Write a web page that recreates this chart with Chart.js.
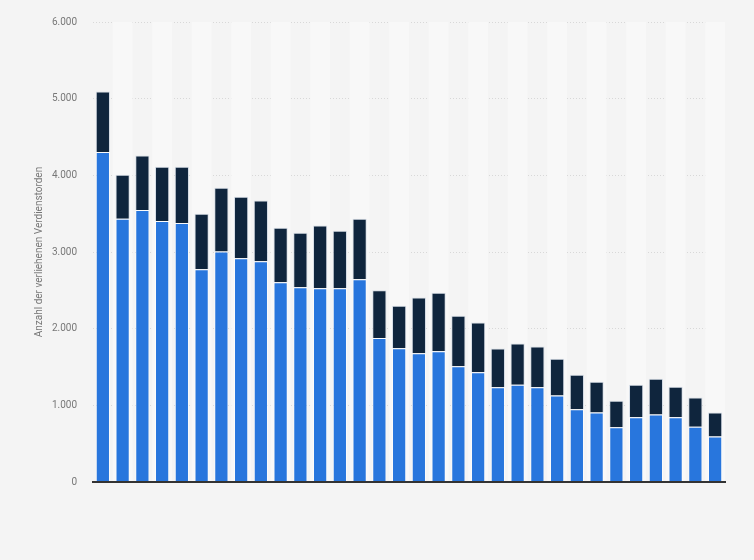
<!DOCTYPE html>
<html lang="de">
<head>
<meta charset="utf-8">
<title>Verdienstorden</title>
<script src="https://cdn.jsdelivr.net/npm/chart.js@4/dist/chart.umd.min.js"></script>
<style>
    html, body { margin: 0; padding: 0; background: #f4f4f4; }
    #wrap { width: 754px; height: 560px; }
</style>
</head>
<body>
<div id="wrap"><canvas id="ordenChart" width="754" height="560"></canvas></div>
<script>
// Kategorien (Beschriftung der x-Achse ist im Original ausgeblendet)
const categories = ['1', '2', '3', '4', '5', '6', '7', '8', '9', '10', '11', '12', '13', '14', '15', '16',
    '17', '18', '19', '20', '21', '22', '23', '24', '25', '26', '27', '28', '29', '30', '31', '32'];

// unteres Segment (blau)
const blueValues = [4303, 3435, 3547, 3403, 3377, 2774, 3008, 2917, 2878, 2604, 2539, 2526, 2526, 2643, 1878, 1743,
    1678, 1704, 1509, 1430, 1235, 1270, 1235, 1127, 948, 905, 713, 844, 879, 844, 722, 592];

// oberes Segment (dunkelblau)
const darkValues = [792, 573, 713, 710, 736, 726, 831, 805, 795, 713, 713, 821, 752, 792, 622, 557,
    727, 766, 661, 649, 505, 535, 531, 482, 452, 404, 348, 426, 469, 400, 379, 313];

const yTicks = [0, 1000, 2000, 3000, 4000, 5000, 6000];
const yTitle = 'Anzahl der verliehenen Verdienstorden';

function formatDe(v) {
    return String(v).replace(/\B(?=(\d{3})+(?!\d))/g, '.');
}

// abwechselnd hellere Spalten hinter den Balken
const stripePlugin = {
    id: 'stripes',
    beforeDatasetsDraw(chart) {
        const { ctx, chartArea, scales } = chart;
        const x = scales.x;
        const band = (chartArea.right - chartArea.left) / categories.length;
        ctx.save();
        ctx.fillStyle = '#f8f8f8';
        categories.forEach((_, i) => {
            if (i % 2 === 1) {
                const cx = x.getPixelForValue(i);
                ctx.fillRect(cx - band / 2, chartArea.top, band, chartArea.bottom - chartArea.top);
            }
        });
        ctx.restore();
    }
};

new Chart(document.getElementById('ordenChart'), {
    type: 'bar',
    data: {
        labels: categories,
        datasets: [
            {
                label: 'blau',
                data: blueValues,
                backgroundColor: '#2876dd',
                borderColor: 'rgba(255,255,255,0.55)',
                borderWidth: 1,
                borderSkipped: 'bottom'
            },
            {
                label: 'dunkel',
                data: darkValues,
                backgroundColor: '#0f253d',
                borderColor: 'rgba(200,210,222,0.7)',
                borderWidth: 1,
                borderSkipped: 'bottom'
            }
        ]
    },
    options: {
        responsive: false,
        animation: false,
        layout: { padding: { top: 21, right: 29, bottom: 78, left: 0 } },
        plugins: {
            legend: { display: false },
            tooltip: { enabled: false },
            title: { display: false }
        },
        datasets: {
            bar: { categoryPercentage: 1, barPercentage: 0.72 }
        },
        scales: {
            x: {
                stacked: true,
                ticks: { display: false },
                grid: { display: false, drawTicks: false },
                border: { display: true, color: '#333', width: 2, z: 2 }
            },
            y: {
                stacked: true,
                min: 0,
                max: 6000,
                afterFit(scale) { scale.width = 93; },
                afterBuildTicks(scale) { scale.ticks = yTicks.map(v => ({ value: v })); },
                ticks: {
                    padding: 16,
                    color: '#777',
                    font: { family: 'Roboto, Arial, sans-serif', size: 10 },
                    callback: v => formatDe(v)
                },
                grid: {
                    color: '#d8d8d8',
                    lineWidth: 1,
                    drawTicks: false
                },
                border: { display: false, dash: [1, 2] },
                title: {
                    display: true,
                    text: yTitle,
                    color: '#777',
                    font: { family: 'Roboto, Arial, sans-serif', size: 10 },
                    padding: { top: 33, bottom: 0 }
                }
            }
        }
    },
    plugins: [stripePlugin]
});
</script>
</body>
</html>
